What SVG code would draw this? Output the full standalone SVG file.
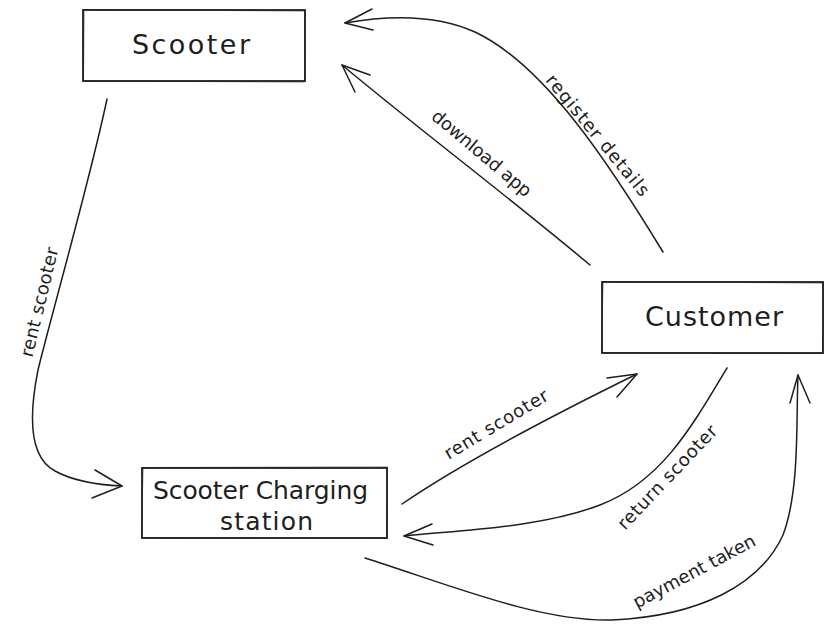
<svg xmlns="http://www.w3.org/2000/svg" width="834" height="632" viewBox="0 0 834 632">
<style>
.box{fill:#fff;stroke:#1e1e1e;stroke-width:1.8}
.box2{fill:none;stroke:#1e1e1e;stroke-width:0.9;opacity:0.7}
.nt{font-family:"DejaVu Sans",sans-serif;font-size:27px;fill:#1e1e1e;text-anchor:middle}
.nt2{font-family:"DejaVu Sans",sans-serif;font-size:25px;fill:#1e1e1e;text-anchor:middle}
.lt{font-family:"DejaVu Sans",sans-serif;font-size:18px;fill:#1e1e1e;text-anchor:middle;dominant-baseline:central}
.c{fill:none;stroke:#1e1e1e;stroke-width:1.5;stroke-linecap:round;stroke-linejoin:round}
</style>
<rect width="834" height="632" fill="#fff"/>
<g id="connectors">
  <g id="e-scooter-station">
    <path class="c" d="M107,99 C 90,180 50,320 38,370 C 28,420 30,458 55,471 C 75,482 100,485 122,486"/>
    <path class="c" d="M95,470 L122,486 L92,498"/>
    <text class="lt" transform="translate(39,302) rotate(-76.5)" textLength="112" lengthAdjust="spacing">rent scooter</text>
  </g>
  <g id="e-customer-scooter-download">
    <path class="c" d="M590,265 C 500,190 420,130 342,65"/>
    <path class="c" d="M370,75 L342,65 L355,92"/>
    <text class="lt" transform="translate(482,153) rotate(40)" textLength="124" lengthAdjust="spacing">download app</text>
  </g>
  <g id="e-customer-scooter-register">
    <path class="c" d="M663,252 C 610,165 545,65 475,32 C 435,14 390,15 345,23"/>
    <path class="c" d="M372,9 L345,23 L373,30"/>
    <text class="lt" transform="translate(598,135) rotate(50.5)" textLength="152" lengthAdjust="spacing">register details</text>
  </g>
  <g id="e-station-customer">
    <path class="c" d="M402,504 Q 478,452 637,374"/>
    <path class="c" d="M607,378 L637,374 L617,397"/>
    <text class="lt" transform="translate(496,424) rotate(-31)" textLength="118" lengthAdjust="spacing">rent scooter</text>
  </g>
  <g id="e-customer-station">
    <path class="c" d="M727,368 C 690,430 660,482 600,505 C 540,528 460,530 404,536"/>
    <path class="c" d="M432,524 L404,536 L433,545"/>
    <text class="lt" transform="translate(667,477) rotate(-46.5)" textLength="136" lengthAdjust="spacing">return scooter</text>
  </g>
  <g id="e-station-customer-payment">
    <path class="c" d="M365,558 C 450,585 540,622 612,620 C 700,616 760,585 783,535 C 800,490 796,420 798,375"/>
    <path class="c" d="M790,403 L798,375 L810,403"/>
    <text class="lt" transform="translate(694,571) rotate(-28)" textLength="136" lengthAdjust="spacing">payment taken</text>
  </g>
</g>
<g id="node-scooter">
  <rect class="box" x="83" y="10" width="222" height="71"/>
  <path class="box2" d="M84,9.5 L305,11 L304.5,82 L83.5,81 Z"/>
  <text class="nt" x="191" y="54" textLength="118" lengthAdjust="spacing">Scooter</text>
</g>
<g id="node-customer">
  <rect class="box" x="602" y="282" width="221" height="71"/>
  <path class="box2" d="M603,281.5 L823.5,283 L822.5,353.5 L601.5,352.5 Z"/>
  <text class="nt" x="714" y="326" textLength="138" lengthAdjust="spacing">Customer</text>
</g>
<g id="node-station">
  <rect class="box" x="142" y="468" width="245" height="70"/>
  <path class="box2" d="M143,467.5 L387.5,467 L386.5,538.5 L141.5,537.5 Z"/>
  <text class="nt2" x="260.5" y="499" textLength="215" lengthAdjust="spacing">Scooter Charging</text>
  <text class="nt2" x="266.5" y="530" textLength="93" lengthAdjust="spacing">station</text>
</g>
</svg>
